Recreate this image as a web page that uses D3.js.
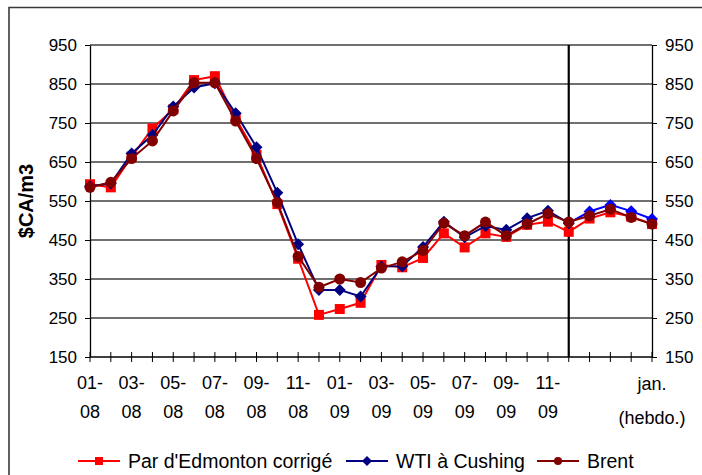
<!DOCTYPE html>
<html>
<head>
<meta charset="utf-8">
<script src="https://cdn.jsdelivr.net/npm/d3@7"></script>
<style>
  html, body { margin: 0; padding: 0; background: #fff; }
  svg { display: block; font-family: "Liberation Sans", Arial, sans-serif; }
  .axis path, .axis line { stroke: #000; }
  .axis text { fill: #000; font-size: 17px; }
</style>
</head>
<body>
<svg id="chart" width="702" height="475"></svg>
<script>
/* ------------------------------- data -------------------------------- */
// 24 monthly points (01-08 .. 12-09) then 4 weekly points for january
const categories = [
  '01-08','02-08','03-08','04-08','05-08','06-08','07-08','08-08','09-08','10-08','11-08','12-08',
  '01-09','02-09','03-09','04-09','05-09','06-09','07-09','08-09','09-09','10-09','11-09','12-09',
  'S1','S2','S3','S4'
];
const monthLabels = ['01-08','03-08','05-08','07-08','09-08','11-08','01-09','03-09','05-09','07-09','09-09','11-09'];
const weeklyLabel = ['jan.', '(hebdo.)'];
const yTicks = [150, 250, 350, 450, 550, 650, 750, 850, 950];

const edmonton = [593,585,664,736,785,860,870,762,668,542,402,258,273,289,386,380,404,467,431,467,458,489,497,471, 505,521,510,491];
const wti      = [588,595,672,719,792,841,852,775,688,571,439,322,322,305,382,383,432,497,457,486,476,506,525,493, 523,540,524,504];
const brent    = [585,598,659,704,781,853,853,755,659,546,408,329,350,341,378,394,423,493,461,496,461,491,517,496, 512,529,508,491];

const seriesNames = ["Par d'Edmonton corrigé", 'WTI à Cushing', 'Brent'];

/* ------------------------------- setup ------------------------------- */
const svg = d3.select('#chart');
const LEFT = 90, RIGHT = 652, TOP = 45, BOTTOM = 357;
const x = d3.scalePoint().domain(categories).range([LEFT, RIGHT]);
const y = d3.scaleLinear().domain([150, 950]).range([BOTTOM, TOP]);
const splitAt = categories.indexOf('12-09');

// outer frame (only left & top visible in the original)
svg.append('path')
  .attr('d', `M9,480 V7.5 H710`)
  .attr('fill', 'none').attr('stroke', '#3a3a3a').attr('stroke-width', 1.6);

// gridlines
svg.append('g').selectAll('line')
  .data(yTicks.filter(v => v > 150))
  .join('line')
  .attr('x1', LEFT).attr('x2', RIGHT)
  .attr('y1', d => y(d)).attr('y2', d => y(d))
  .attr('stroke', '#404040').attr('stroke-width', 1.4);

// left / right axes
svg.append('g').attr('class', 'axis').attr('transform', `translate(${LEFT},0)`)
  .call(d3.axisLeft(y).tickValues(yTicks).tickSize(5).tickPadding(8).tickSizeOuter(0));
svg.append('g').attr('class', 'axis').attr('transform', `translate(${RIGHT},0)`)
  .call(d3.axisRight(y).tickValues(yTicks).tickSize(5).tickPadding(8).tickSizeOuter(0));
svg.selectAll('.axis path').attr('stroke-width', 1.3);

// bottom axis: line + ticks crossing it
const xAxisG = svg.append('g').attr('class', 'axis');
xAxisG.append('line').attr('x1', LEFT).attr('x2', RIGHT).attr('y1', BOTTOM).attr('y2', BOTTOM)
  .attr('stroke', '#000').attr('stroke-width', 1.3);
xAxisG.selectAll('.xt').data(categories).join('line').attr('class', 'xt')
  .attr('x1', d => x(d)).attr('x2', d => x(d))
  .attr('y1', BOTTOM - 5).attr('y2', BOTTOM + 5)
  .attr('stroke', '#000').attr('stroke-width', 1);

const xl = xAxisG.selectAll('.xl').data(monthLabels).join('text').attr('class', 'xl')
  .attr('text-anchor', 'middle').style('font-size', '18px');
xl.append('tspan').attr('x', d => x(d)).attr('y', 389).text(d => d.split('-')[0] + '-');
xl.append('tspan').attr('x', d => x(d)).attr('y', 418).text(d => d.split('-')[1]);

const wl = xAxisG.append('text').attr('text-anchor', 'middle').style('font-size', '18px');
wl.selectAll('tspan').data(weeklyLabel).join('tspan')
  .attr('x', x(categories[categories.length - 1]))
  .attr('y', (d, i) => 390 + i * 34)
  .text(d => d);

// vertical separator between monthly and weekly data
svg.append('line')
  .attr('x1', x(categories[splitAt])).attr('x2', x(categories[splitAt]))
  .attr('y1', TOP).attr('y2', BOTTOM)
  .attr('stroke', '#000').attr('stroke-width', 2.2);

// y title
svg.append('text')
  .attr('transform', `translate(33,${(TOP + BOTTOM) / 2}) rotate(-90)`)
  .attr('text-anchor', 'middle')
  .style('font-size', '20px').style('font-weight', 'bold')
  .text('$CA/m3');

/* ------------------------------- series ------------------------------ */
const line = d3.line().x((d, i) => x(categories[i])).y(d => y(d));
const lineW = d3.line().x((d, i) => x(categories[i + splitAt])).y(d => y(d));

function marker(g, shape, color, size) {
  if (shape === 'square') {
    g.append('rect').attr('x', -size / 2).attr('y', -size / 2).attr('width', size).attr('height', size).attr('fill', color);
  } else if (shape === 'diamond') {
    const s = size / 2 + 1;
    g.append('path').attr('d', `M0,${-s} L${s},0 L0,${s} L${-s},0 Z`).attr('fill', color);
  } else {
    g.append('circle').attr('r', size / 2).attr('fill', color);
  }
}

const series = [
  {name: seriesNames[0], values: edmonton, color: '#ff0000', weekColor: '#ff0000', shape: 'square', size: 10},
  {name: seriesNames[1], values: wti,      color: '#000080', weekColor: '#0000ff', shape: 'diamond', size: 10},
  {name: seriesNames[2], values: brent,    color: '#800000', weekColor: '#800000', shape: 'circle', size: 11}
];

series.forEach(s => {
  const g = svg.append('g');
  g.append('path').datum(s.values.slice(0, splitAt + 1)).attr('d', line)
    .attr('fill', 'none').attr('stroke', s.color).attr('stroke-width', 2);
  g.append('path').datum(s.values.slice(splitAt)).attr('d', lineW)
    .attr('fill', 'none').attr('stroke', s.weekColor).attr('stroke-width', 2);
  s.values.forEach((v, i) => {
    const m = g.append('g').attr('transform', `translate(${x(categories[i])},${y(v)})`);
    marker(m, s.shape, i > splitAt ? s.weekColor : s.color, s.size);
  });
});

/* ------------------------------- legend ------------------------------ */
const legendX = [78, 346, 537];
series.forEach((s, i) => {
  const g = svg.append('g').attr('transform', `translate(${legendX[i]},461)`);
  g.append('line').attr('x1', 0).attr('x2', 42).attr('stroke', s.color).attr('stroke-width', 2);
  const m = g.append('g').attr('transform', 'translate(21,0)');
  marker(m, s.shape, s.color, 8);
  g.append('text').attr('x', 50).attr('y', 7).style('font-size', '19.5px').text(s.name);
});
</script>
</body>
</html>
